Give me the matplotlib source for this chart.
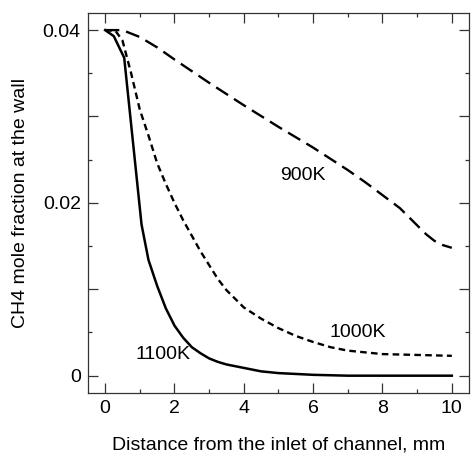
import matplotlib
matplotlib.use("Agg")
import matplotlib.pyplot as plt
from matplotlib.ticker import MultipleLocator, FuncFormatter

plt.rcParams['font.family'] = ['Liberation Sans', 'DejaVu Sans']

# 1100 K (solid)
x1100 = [0, 0.25, 0.55, 1.05, 1.25, 1.5, 1.75, 2, 2.25, 2.5, 2.75, 3, 3.25, 3.5, 4, 4.5,
         5, 6, 7, 8, 9, 10]
y1100 = [0.04, 0.0393, 0.0368, 0.0175, 0.0134, 0.0104, 0.0078, 0.0058, 0.0044, 0.0033,
         0.0026, 0.0020, 0.0016, 0.0013, 0.0009, 0.0005, 0.0003, 0.0001, 0.0, 0.0, 0.0, 0.0]

# 1000 K (short dash)
x1000 = [0, 0.3, 0.5, 0.75, 1, 1.25, 1.5, 1.75, 2, 2.25, 2.5, 2.75, 3, 3.25, 3.5, 4, 4.5,
         5, 5.5, 6, 6.5, 7, 7.5, 8, 9, 10]
y1000 = [0.04, 0.0399, 0.0388, 0.0350, 0.0308, 0.0278, 0.0246, 0.0222, 0.0200, 0.0180,
         0.0162, 0.0144, 0.0128, 0.0112, 0.0099, 0.0079, 0.0066, 0.0055, 0.0046, 0.0039,
         0.0033, 0.0029, 0.0027, 0.0025, 0.0024, 0.0023]

# 900 K (long dash)
x900 = [0, 0.5, 1, 1.5, 2, 3, 4, 5, 6, 7, 7.5, 8, 8.5, 8.75, 9, 9.25, 9.5, 9.75, 10]
y900 = [0.04, 0.0400, 0.0392, 0.0380, 0.0366, 0.0339, 0.0313, 0.0288, 0.0264, 0.0238,
        0.0224, 0.0209, 0.0194, 0.0184, 0.0174, 0.0164, 0.0156, 0.0151, 0.0148]

labels = ["900K", "1000K", "1100K"]
label_pos = [(5.7, 0.0232), (7.3, 0.0050), (1.66, 0.0024)]

fig = plt.figure(figsize=(4.72, 4.58), dpi=100)
ax = fig.add_axes([0.186, 0.142, 0.808, 0.830])

ax.plot(x1100, y1100, color='black', lw=1.8, ls='-')
ax.plot(x1000, y1000, color='black', lw=1.7, ls=(0, (2.8, 1.8)))
ax.plot(x900, y900, color='black', lw=1.7, ls=(0, (6, 3)))

for t, (lx, ly) in zip(labels, label_pos):
    ax.text(lx, ly, t, fontsize=14, ha='center', va='center')

ax.set_xlim(-0.5, 10.5)
ax.set_ylim(-0.002, 0.042)

ax.xaxis.set_major_locator(MultipleLocator(2))
ax.xaxis.set_minor_locator(MultipleLocator(1))
ax.yaxis.set_major_locator(MultipleLocator(0.01))
ax.yaxis.set_minor_locator(MultipleLocator(0.005))

def yfmt(v, pos):
    r = round(v / 0.01)
    if r == 0:
        return "0"
    if r in (2, 4):
        return f"{v:.2f}"
    return ""
ax.yaxis.set_major_formatter(FuncFormatter(yfmt))

ax.tick_params(which='both', direction='in', top=True, right=True, labelsize=14,
               color='#333333', width=0.9)
ax.tick_params(which='major', length=7, pad=5)
ax.tick_params(which='minor', length=3)

for s in ax.spines.values():
    s.set_linewidth(0.9)
    s.set_color('#333333')

ax.set_xlabel("Distance from the inlet of channel, mm", fontsize=14, labelpad=14)
ax.set_ylabel("CH4 mole fraction at the wall", fontsize=14, labelpad=10)

fig.savefig("out.png", dpi=100)
